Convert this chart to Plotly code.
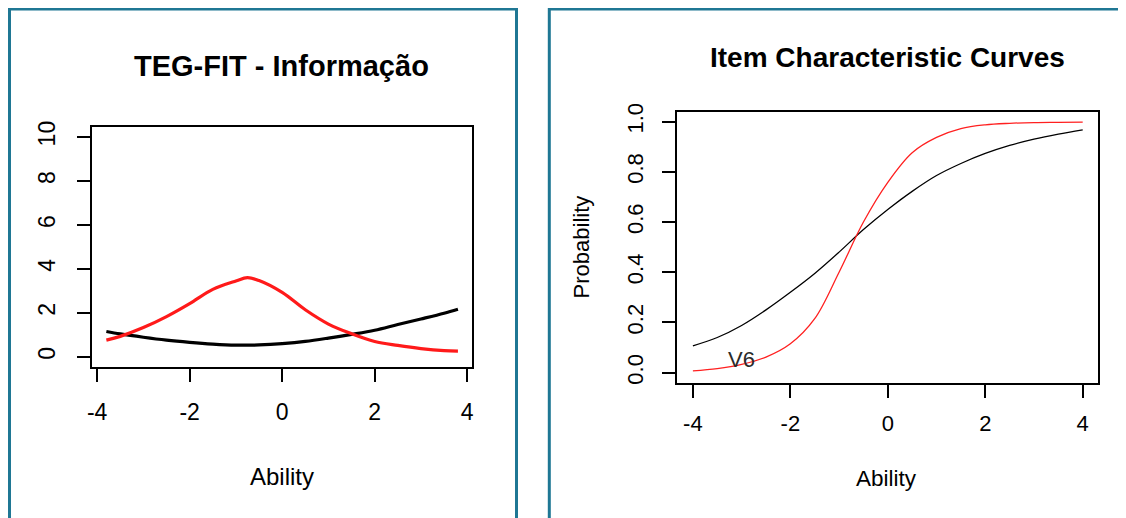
import plotly.graph_objects as go

W, H = 1126, 518
OFF = 8  # browser body margin offsets the figure by 8px

# ---- data: left panel (information) ----
theta_info = [-3.8, -3.5, -3.0, -2.5, -2.0, -1.5, -1.0, -0.75, -0.5, 0.0, 0.5, 1.0, 1.5, 2.0, 2.5, 3.0, 3.5, 3.8]
info_red = [0.76, 0.93, 1.33, 1.83, 2.42, 3.07, 3.45, 3.60, 3.47, 2.93, 2.14, 1.49, 1.05, 0.70, 0.52, 0.375, 0.28, 0.26]
info_black = [1.15, 1.04, 0.89, 0.76, 0.66, 0.58, 0.53, 0.53, 0.54, 0.60, 0.70, 0.85, 1.02, 1.21, 1.47, 1.72, 1.98, 2.16]

# ---- data: right panel (item characteristic curves) ----
theta_icc = [-4.0, -3.5, -3.0, -2.5, -2.0, -1.5, -1.0, -0.5, 0.0, 0.5, 1.0, 1.5, 2.0, 2.5, 3.0, 3.5, 4.0]
icc_black = [0.107, 0.140, 0.188, 0.250, 0.320, 0.395, 0.480, 0.570, 0.650, 0.722, 0.785, 0.833, 0.873, 0.905, 0.930, 0.950, 0.967]
icc_red = [0.007, 0.016, 0.033, 0.062, 0.115, 0.215, 0.400, 0.600, 0.758, 0.876, 0.937, 0.972, 0.987, 0.993, 0.996, 0.997, 0.998]

x_ticks = [-4, -2, 0, 2, 4]
x_tick_text = ["-4", "-2", "0", "2", "4"]
info_yticks = [0, 2, 4, 6, 8, 10]
icc_yticks = [0.0, 0.2, 0.4, 0.6, 0.8, 1.0]
icc_ytick_text = ["0.0", "0.2", "0.4", "0.6", "0.8", "1.0"]

FONT = "Liberation Sans, Arial, sans-serif"
TEAL = "#1f7794"

def px(x):
    return (x - OFF) / W

def py(y):
    return 1 - (y - OFF) / H

fig = go.Figure()
fig.add_trace(go.Scatter(x=theta_info, y=info_black, mode="lines", line=dict(color="black", width=3.2, shape="spline"),
                         xaxis="x", yaxis="y", showlegend=False))
fig.add_trace(go.Scatter(x=theta_info, y=info_red, mode="lines", line=dict(color="#ff1a1a", width=3.2, shape="spline"),
                         xaxis="x", yaxis="y", showlegend=False))
fig.add_trace(go.Scatter(x=theta_icc, y=icc_black, mode="lines", line=dict(color="black", width=1.3, shape="spline"),
                         xaxis="x2", yaxis="y2", showlegend=False))
fig.add_trace(go.Scatter(x=theta_icc, y=icc_red, mode="lines", line=dict(color="#ff2020", width=1.3, shape="spline"),
                         xaxis="x2", yaxis="y2", showlegend=False))

axis_common = dict(showline=True, linecolor="black", linewidth=1.8, mirror=True, ticks="outside",
                   ticklen=13, tickwidth=1.6, tickcolor="black", showgrid=False, zeroline=False,
                   fixedrange=True, automargin=False)

fig.update_layout(
    template="none",
    width=W, height=H,
    margin=dict(l=0, r=0, t=0, b=0, pad=0),
    paper_bgcolor="white", plot_bgcolor="white",
    font=dict(family=FONT, color="black"),
    xaxis=dict(domain=[px(92.3), px(472)], range=[-4.104, 4.104], anchor="y",
               tickvals=x_ticks, ticktext=x_tick_text, tickfont=dict(size=23), ticklabelstandoff=11, **axis_common),
    yaxis=dict(domain=[py(366.7), py(126.7)], range=[-0.45, 10.47], anchor="x",
               tickvals=info_yticks, tickangle=-90, tickfont=dict(size=23), ticklabelstandoff=13, **axis_common),
    xaxis2=dict(domain=[px(677.3), px(1098.3)], range=[-4.32, 4.32], anchor="y2",
                tickvals=x_ticks, ticktext=x_tick_text, tickfont=dict(size=22), ticklabelstandoff=7, **axis_common),
    yaxis2=dict(domain=[py(382.7), py(111.5)], range=[-0.04, 1.04], anchor="x2",
                tickvals=icc_yticks, ticktext=icc_ytick_text, tickangle=-90, tickfont=dict(size=22),
                ticklabelstandoff=11, **axis_common),
)

annotations = [
    dict(text="<b>TEG-FIT - Informação</b>", x=px(281.5), y=py(66.5), font=dict(size=29)),
    dict(text="<b>Item Characteristic Curves</b>", x=px(887), y=py(57.5), font=dict(size=28)),
    dict(text="Ability", x=px(281.7), y=py(476.7), font=dict(size=24)),
    dict(text="Ability", x=px(886.7), y=py(478.3), font=dict(size=22.5)),
    dict(text="Probability", x=px(581.7), y=py(246.7), font=dict(size=22), textangle=-90),
]
for a in annotations:
    a.update(xref="paper", yref="paper", showarrow=False, xanchor="center", yanchor="middle")
    fig.add_annotation(**a)

fig.add_annotation(text="V6", x=-3.0, y=0.053, xref="x2", yref="y2", showarrow=False,
                   xanchor="center", yanchor="middle", font=dict(size=22, color="#2a2a2a"))

# teal panel frames
fig.add_shape(type="rect", xref="paper", yref="paper", x0=px(9.5), x1=px(516.5), y0=-0.2, y1=py(9),
              line=dict(color=TEAL, width=3), layer="below")
fig.add_shape(type="rect", xref="paper", yref="paper", x0=px(549.3), x1=1.2, y0=-0.2, y1=py(9),
              line=dict(color=TEAL, width=3), layer="below")

fig.write_html("out.html")
